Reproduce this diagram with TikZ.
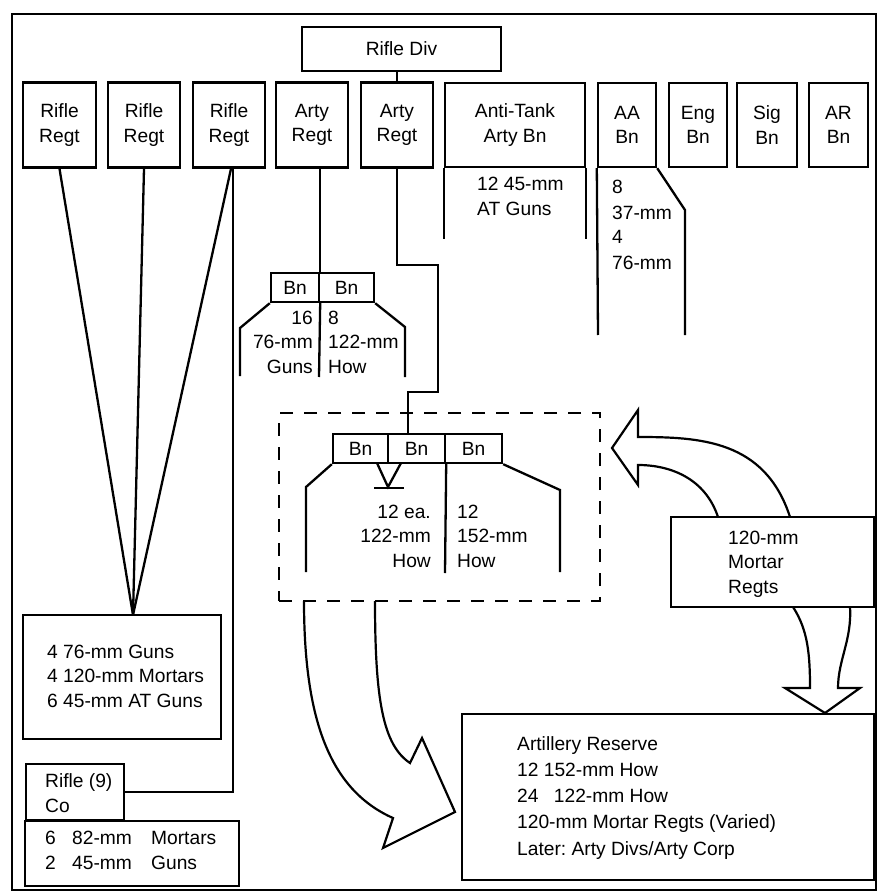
\documentclass[tikz,border=0pt]{standalone}
\usepackage{fontspec}
\setmainfont{Liberation Sans}
\frenchspacing
\begin{document}
\begin{tikzpicture}[x=1pt,y=-1pt,
  every node/.style={font=\fontsize{19.2}{24.5}\selectfont},
  ln/.style={line width=2.3pt, line join=miter},
  box/.style={draw, line width=2.4pt, inner sep=0pt, align=center},
  lbl/.style={inner sep=0pt, align=left, anchor=base west},
  rlbl/.style={inner sep=0pt, align=right, anchor=base east},
  dashbox/.style={draw, line width=2.4pt, dash pattern=on 13pt off 11pt, inner sep=0pt},
  bigarrow/.style={draw, line width=2.2pt, line join=miter}
]
\useasboundingbox (0,0) rectangle (879,893);
% outer frame
\draw[line width=2.6pt] (12,14) rectangle (876,890);

% top row
\node[box, minimum width=199, minimum height=44] (rdiv) at (401.5,49) {Rifle Div};
\node[box, minimum width=73, minimum height=85] (rr1) at (59.5,125) {Rifle\\Regt};
\node[box, minimum width=72, minimum height=85] (rr2) at (144,125) {Rifle\\Regt};
\node[box, minimum width=72, minimum height=85] (rr3) at (229,125) {Rifle\\Regt};
\node[box, minimum width=72, minimum height=85] (ar1) at (312,125) {Arty\\Regt};
\node[box, minimum width=72, minimum height=85] (ar2) at (397,125) {Arty\\Regt};
\node[box, minimum width=140, minimum height=84] (atb) at (515,125) {Anti-Tank\\Arty Bn};
\node[box, minimum width=58, minimum height=84] (aab) at (627,125) {AA\\Bn};
\node[box, minimum width=58, minimum height=84] (eng) at (698,125) {Eng\\Bn};
\node[box, minimum width=60, minimum height=84] (sig) at (767,125) {Sig\\Bn};
\node[box, minimum width=59, minimum height=84] (arb) at (838.5,125) {AR\\Bn};

\draw[ln] (ar2.north |- rdiv.south) -- (ar2.north);

% anti-tank and AA extensions
\draw[ln] (atb.south west) -- ++(0,71);
\draw[ln] (atb.south east) -- ++(0,71);
\node[lbl] (attxt) at (477,215) {12 45-mm\\AT Guns};
\draw[ln] (aab.south west) -- (598,335);
\draw[ln] (aab.south east) -- (685,210) -- (685,335);
\node[lbl, font=\fontsize{19.2}{25}\selectfont] (aatxt) at (612,269) {8\\37-mm\\4\\76-mm};

% Arty Regt 1 battalions
\node[box, minimum width=48, minimum height=29] (bn1) at (295,287.5) {Bn};
\node[box, minimum width=55, minimum height=29] (bn2) at (346.5,287.5) {Bn};
\draw[ln] (bn1.north east |- ar1.south) -- (bn1.north east);
\draw[ln] (bn1.south east) -- (319,377);
\draw[ln] (bn1.south west) -- (240,328) -- (240,376);
\draw[ln] (bn2.south east) -- (405,327) -- (405,377);
\node[rlbl] (t16) at (313,373) {16\\76-mm\\Guns};
\node[lbl] (t8) at (328,373) {8\\122-mm\\How};

% Arty Regt 2 battalions
\node[box, minimum width=55, minimum height=29] (bn3) at (360.5,448.5) {Bn};
\node[box, minimum width=57, minimum height=29] (bn4) at (416.5,448.5) {Bn};
\node[box, minimum width=57, minimum height=29] (bn5) at (473.5,448.5) {Bn};
\coordinate (j1) at (438,265);
\coordinate (j2) at (408,392);
\draw[ln] (ar2.south) |- (j1) |- (j2) -- (j2 |- bn4.north);
\draw[ln] (bn3.south west) -- (306,487) -- (306,572);
\draw[ln] (bn4.south east) -- (445,573);
\draw[ln] (bn5.south east) -- (560,490) -- (560,572);
\draw[ln] (377,463) -- (388,487) -- (401,463);
\draw[ln] (374,488) -- (404,488);
\node[rlbl] (t12a) at (431,567) {12 ea.\\122-mm\\How};
\node[lbl] (t12b) at (457,567) {12\\152-mm\\How};

\node[dashbox, minimum width=321, minimum height=188] (grp) at (439.5,507) {};

% rifle regiment weapons
\node[box, minimum width=198, minimum height=124] (g4) at (122,677) {};
\node[lbl] (g4t) at (47,707) {4 76-mm Guns\\4 120-mm Mortars\\6 45-mm AT Guns};
\coordinate (conv) at (133,615);
\draw[ln] (rr1.south) -- (conv);
\draw[ln] (rr2.south) -- (conv);
\draw[ln] ([xshift=2pt]rr3.south) -- (conv);

\node[box, minimum width=98, minimum height=56] (rco) at (75,792) {};
\node[lbl] (rcot) at (45,812) {Rifle (9)\\Co};
\draw[ln] ([xshift=4pt]rr3.south) |- (rco.east);
\node[box, minimum width=214, minimum height=65] (mort) at (132,853.5) {};
\node[lbl] (mortt) at (45,869) {\makebox[27pt][l]{6}\makebox[79pt][l]{82-mm}Mortars\\\makebox[27pt][l]{2}\makebox[79pt][l]{45-mm}Guns};

% mortar regiments and reserve
\node[box, minimum width=203, minimum height=90] (mrt) at (772.5,562) {};
\node[lbl] (mrtt) at (728,593) {120-mm\\Mortar\\Regts};
\node[box, minimum width=412, minimum height=166] (res) at (668,797) {};
\node[lbl, font=\fontsize{19.2}{26.25}\selectfont] (rest) at (517,855) {Artillery Reserve\\12 152-mm How\\24\hspace{0.8em}122-mm How\\120-mm Mortar Regts (Varied)\\Later: Arty Divs/Arty Corp};

% block arrows
\draw[bigarrow] (790,517) .. controls (765,440) and (700,437) .. (638,437) -- (638,410) -- (612,448) -- (638,485) -- (638,465) .. controls (670,465) and (705,478) .. (718,517);
\draw[bigarrow] (793,607) .. controls (808,630) and (810,655) .. (810,688) -- (785,688) -- (825,713) -- (860,688) -- (838,688) .. controls (838,660) and (852,640) .. (850,607);
\draw[bigarrow] (304,601) .. controls (304,720) and (330,790) .. (393,818) -- (383,848) -- (455,812) -- (422,738) -- (410,763) .. controls (383,745) and (375,700) .. (375,601);
\end{tikzpicture}
\end{document}
